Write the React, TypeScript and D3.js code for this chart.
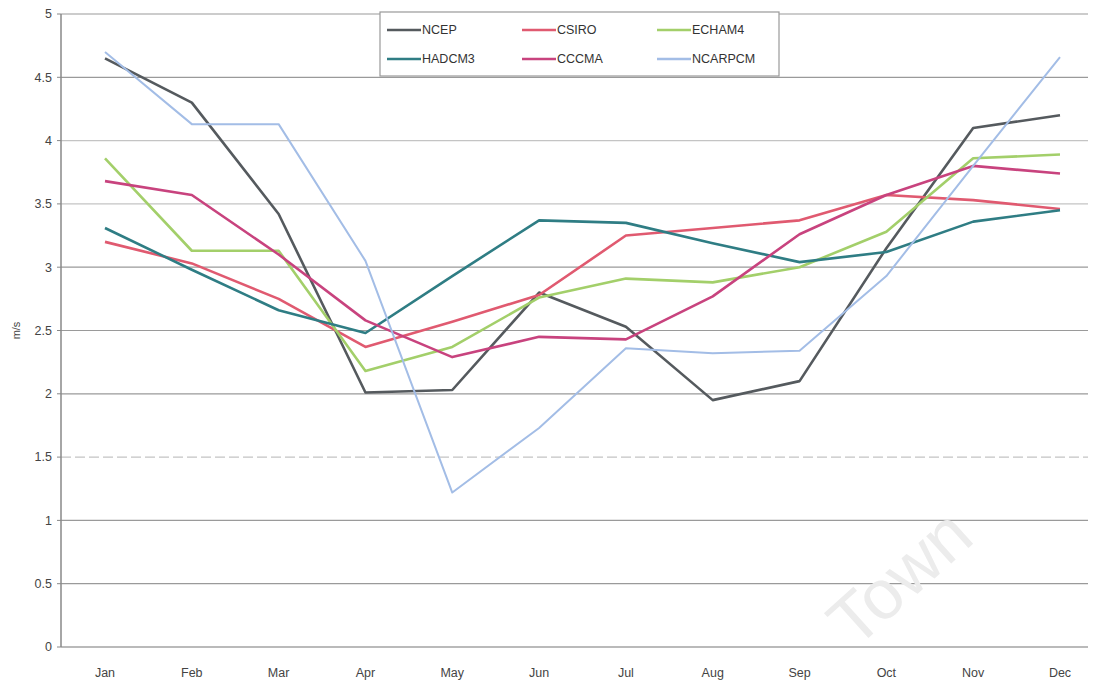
import React from "react";
import * as d3 from "d3";

const months = ["Jan", "Feb", "Mar", "Apr", "May", "Jun", "Jul", "Aug", "Sep", "Oct", "Nov", "Dec"];
const yTicks = [0, 0.5, 1, 1.5, 2, 2.5, 3, 3.5, 4, 4.5, 5];

const ncep = [4.65, 4.3, 3.42, 2.01, 2.03, 2.8, 2.53, 1.95, 2.1, 3.15, 4.1, 4.2];
const csiro = [3.2, 3.03, 2.75, 2.37, 2.57, 2.78, 3.25, 3.31, 3.37, 3.57, 3.53, 3.46];
const echam4 = [3.86, 3.13, 3.13, 2.18, 2.37, 2.76, 2.91, 2.88, 3.0, 3.28, 3.86, 3.89];
const hadcm3 = [3.31, 2.98, 2.66, 2.48, 2.93, 3.37, 3.35, 3.19, 3.04, 3.12, 3.36, 3.45];
const cccma = [3.68, 3.57, 3.1, 2.58, 2.29, 2.45, 2.43, 2.77, 3.26, 3.57, 3.8, 3.74];
const ncarpcm = [4.7, 4.13, 4.13, 3.05, 1.22, 1.73, 2.36, 2.32, 2.34, 2.93, 3.8, 4.66];

const seriesNames = ["NCEP", "CSIRO", "ECHAM4", "HADCM3", "CCCMA", "NCARPCM"];
const seriesValues = [ncep, csiro, echam4, hadcm3, cccma, ncarpcm];
const seriesColors = ["#555a5e", "#e05a70", "#a3cf6a", "#2f7d84", "#c8437e", "#a3bde6"];

export default function App() {
  const W = 1095;
  const H = 682;
  const x = d3.scalePoint<string>().domain(months).range([105, 1060]);
  const y = d3.scaleLinear().domain([0, 5]).range([647, 14]);
  const line = d3
    .line<number>()
    .x((_, i) => x(months[i]) as number)
    .y((d) => y(d));

  const font = "Arial, 'Liberation Sans', sans-serif";

  // legend layout: 3 columns, 2 rows
  const legCols = [387, 522, 657];
  const legRows = [30, 59];

  return (
    <svg
      width={W}
      height={H}
      style={{ position: "absolute", left: 0, top: 0, background: "#fff" }}
      fontFamily={font}
    >
      <rect x={0} y={0} width={W} height={H} fill="#fff" />
      {/* gridlines */}
      {yTicks.map((t) => (
        <line
          key={"g" + t}
          x1={61}
          x2={1088}
          y1={y(t)}
          y2={y(t)}
          stroke={t === 0 ? "#777" : [1.5, 3.5, 4].includes(t) ? "#c4c4c4" : "#9a9a9a"}
          strokeWidth={1.2}
          strokeDasharray={t === 1.5 ? "10 4" : undefined}
        />
      ))}
      {/* y axis */}
      <line x1={61} x2={61} y1={y(5)} y2={y(0)} stroke="#888" strokeWidth={1.5} />
      {yTicks.map((t) => (
        <g key={"yt" + t}>
          <line x1={57} x2={61} y1={y(t)} y2={y(t)} stroke="#888" />
          <text
            x={52}
            y={y(t)}
            dy="0.35em"
            textAnchor="end"
            fontSize={12.5}
            fill="#444"
          >
            {t}
          </text>
        </g>
      ))}
      <text
        transform={`translate(20, ${y(2.5)}) rotate(-90)`}
        textAnchor="middle"
        fontSize={11}
        fill="#444"
      >
        m/s
      </text>
      {/* x labels */}
      {months.map((m) => (
        <text
          key={m}
          x={x(m) as number}
          y={677}
          textAnchor="middle"
          fontSize={12.5}
          fill="#444"
        >
          {m}
        </text>
      ))}
      {/* watermark */}
      <text
        transform="translate(855, 650) rotate(-42)"
        fontSize={70}
        fill="#ececec"
        fontFamily={font}
      >
        Town
      </text>
      {/* series */}
      {seriesValues.map((vals, i) => (
        <path
          key={seriesNames[i]}
          d={line(vals) as string}
          fill="none"
          stroke={seriesColors[i]}
          strokeWidth={i === 5 ? 2 : 2.6}
          strokeLinejoin="round"
        />
      ))}
      {/* legend */}
      <rect x={380} y={12} width={399} height={64} fill="#fff" stroke="#999" strokeWidth={1.2} />
      {seriesNames.map((name, i) => {
        const cx = legCols[i % 3];
        const cy = legRows[Math.floor(i / 3)];
        return (
          <g key={"leg" + name}>
            <line x1={cx} x2={cx + 34} y1={cy} y2={cy} stroke={seriesColors[i]} strokeWidth={2.4} />
            <text x={cx + 35} y={cy} dy="0.35em" fontSize={12.5} fill="#333">
              {name}
            </text>
          </g>
        );
      })}
    </svg>
  );
}
